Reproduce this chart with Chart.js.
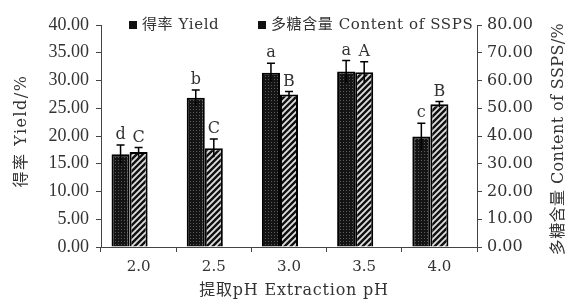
<!DOCTYPE html>
<html>
<head>
<meta charset="utf-8">
<script src="https://cdn.jsdelivr.net/npm/chart.js@4.4.0/dist/chart.umd.min.js"></script>
<style>
    html, body { margin: 0; padding: 0; background: #fff; }
</style>
</head>
<body>
<canvas id="myChart" width="569" height="300"></canvas>
<script>
// dados
const categories = ['2.0', '2.5', '3.0', '3.5', '4.0'];
const yieldValues = [16.7, 26.9, 31.4, 31.6, 19.9];
const yieldErrors = [1.7, 1.4, 1.7, 2.0, 2.4];
const yieldLetters = ['d', 'b', 'a', 'a', 'c'];
const sspsValues = [34.2, 35.6, 55.0, 63.0, 51.4];
const sspsErrors = [1.7, 3.3, 1.0, 3.8, 1.0];
const sspsLetters = ['C', 'C', 'B', 'A', 'B'];
const leftTicks = [0, 5, 10, 15, 20, 25, 30, 35, 40];
const rightTicks = [0, 10, 20, 30, 40, 50, 60, 70, 80];

const SERIF = '"DejaVu Serif", "Noto Sans CJK SC", serif';
const TXT = '#333';
const ctx = document.getElementById('myChart');
const g2d = ctx.getContext('2d');

// padrao pontilhado escuro (Yield)
function dotPattern() {
    const c = document.createElement('canvas');
    c.width = 3; c.height = 3;
    const g = c.getContext('2d');
    g.fillStyle = '#141414';
    g.fillRect(0, 0, 3, 3);
    g.fillStyle = '#5a5a5a';
    g.fillRect(1, 1, 1, 1);
    return g2d.createPattern(c, 'repeat');
}

// padrao listrado diagonal (SSPS)
function stripePattern() {
    const c = document.createElement('canvas');
    c.width = 6; c.height = 6;
    const g = c.getContext('2d');
    g.fillStyle = '#111';
    g.fillRect(0, 0, 6, 6);
    g.strokeStyle = '#e0e0e0';
    g.lineWidth = 1.8;
    g.beginPath();
    g.moveTo(-1, 7); g.lineTo(7, -1);
    g.moveTo(-1, 1); g.lineTo(1, -1);
    g.moveTo(5, 7); g.lineTo(7, 5);
    g.stroke();
    return g2d.createPattern(c, 'repeat');
}

const yieldFill = dotPattern();
const sspsFill = stripePattern();

// texto espacado (imita a fonte monoespacada do original)
function spacedText(c, text, x, y, spacing) {
    c.letterSpacing = spacing + 'px';
    c.fillText(text, x, y);
    c.letterSpacing = '0px';
}

// barras de erro + letras de significancia
const errorBars = {
    id: 'errorBars',
    afterDatasetsDraw(chart) {
        const c = chart.ctx;
        chart.data.datasets.forEach((ds, i) => {
            if (!ds.errors) return;
            const meta = chart.getDatasetMeta(i);
            const scale = chart.scales[ds.yAxisID];
            meta.data.forEach((bar, j) => {
                const v = ds.data[j], e = ds.errors[j];
                const yTop = scale.getPixelForValue(v + e);
                const yLow = scale.getPixelForValue(v - e);
                c.save();
                c.strokeStyle = '#000';
                c.lineWidth = 1.5;
                c.beginPath();
                c.moveTo(bar.x, yLow);
                c.lineTo(bar.x, yTop);
                c.moveTo(bar.x - 4, yTop);
                c.lineTo(bar.x + 4, yTop);
                c.stroke();
                c.fillStyle = TXT;
                c.font = '16px ' + SERIF;
                c.textAlign = 'center';
                c.textBaseline = 'bottom';
                c.fillText(ds.letters[j], bar.x, yTop - 2);
                c.restore();
            });
        });
    }
};

// legenda e titulos dos eixos
const extras = {
    id: 'extras',
    afterDraw(chart) {
        const c = chart.ctx;
        const area = chart.chartArea;
        c.save();
        c.textBaseline = 'middle';
        c.font = '15px ' + SERIF;

        // legenda
        const items = [
            { x: 129, text: chart.data.datasets[0].label },
            { x: 258, text: chart.data.datasets[1].label }
        ];
        items.forEach(it => {
            c.fillStyle = '#111';
            c.fillRect(it.x, 21, 8, 8);
            c.fillStyle = TXT;
            c.textAlign = 'left';
            spacedText(c, it.text, it.x + 13, 25, 0.6);
        });

        // titulo esquerdo
        c.save();
        c.translate(22, 131);
        c.rotate(-Math.PI / 2);
        c.textAlign = 'center';
        c.font = '16px ' + SERIF;
        spacedText(c, '得率 Yield/%', 0, 0, 1.5);
        c.restore();

        // titulo direito
        c.save();
        c.translate(559, 139);
        c.rotate(-Math.PI / 2);
        c.textAlign = 'center';
        c.font = '16px ' + SERIF;
        spacedText(c, '多糖含量 Content of SSPS/%', 0, 0, 0.4);
        c.restore();

        // titulo x
        c.textAlign = 'center';
        c.font = '16px ' + SERIF;
        spacedText(c, '提取pH Extraction pH', 294, 291, 0.8);
        c.restore();
    }
};

new Chart(ctx, {
    type: 'bar',
    data: {
        labels: categories,
        datasets: [{
            label: '得率 Yield',
            data: yieldValues,
            errors: yieldErrors,
            letters: yieldLetters,
            yAxisID: 'y',
            backgroundColor: yieldFill,
            borderColor: '#000',
            borderWidth: 2,
            categoryPercentage: 0.72,
            barPercentage: 1
        }, {
            label: '多糖含量 Content of SSPS',
            data: sspsValues,
            errors: sspsErrors,
            letters: sspsLetters,
            yAxisID: 'y1',
            backgroundColor: sspsFill,
            borderColor: '#000',
            borderWidth: 2,
            categoryPercentage: 0.72,
            barPercentage: 1
        }, {
            // serie vazia: so reserva espaco, como no grafico original (barras deslocadas p/ esquerda)
            label: '',
            data: [],
            yAxisID: 'y',
            categoryPercentage: 0.72,
            barPercentage: 1
        }]
    },
    options: {
        responsive: false,
        devicePixelRatio: 1,
        animation: false,
        layout: { padding: { top: 25 } },
        plugins: {
            legend: { display: false },
            tooltip: { enabled: false }
        },
        scales: {
            x: {
                grid: { offset: true, drawOnChartArea: false, tickLength: 5, color: '#444' },
                border: { color: '#444', width: 1 },
                ticks: { color: TXT, font: { family: SERIF, size: 15 }, padding: 6 },
                afterFit(scale) { scale.height = 53; }
            },
            y: {
                position: 'left',
                min: 0, max: 40,
                afterBuildTicks(scale) { scale.ticks = leftTicks.map(v => ({ value: v })); },
                grid: { drawOnChartArea: false, tickLength: 5, color: '#444' },
                border: { color: '#444', width: 1 },
                ticks: {
                    color: TXT,
                    font: { family: '"Liberation Serif", serif', size: 18 },
                    padding: 7,
                    callback: v => v.toFixed(2)
                },
                afterFit(scale) { scale.width = 101; }
            },
            y1: {
                position: 'right',
                min: 0, max: 80,
                afterBuildTicks(scale) { scale.ticks = rightTicks.map(v => ({ value: v })); },
                grid: { drawOnChartArea: false, tickLength: 5, color: '#444' },
                border: { color: '#444', width: 1 },
                ticks: {
                    color: TXT,
                    font: { family: SERIF, size: 16 },
                    padding: 5,
                    callback: v => v.toFixed(2)
                },
                afterFit(scale) { scale.width = 92; }
            }
        }
    },
    plugins: [errorBars, extras]
});
</script>
</body>
</html>
